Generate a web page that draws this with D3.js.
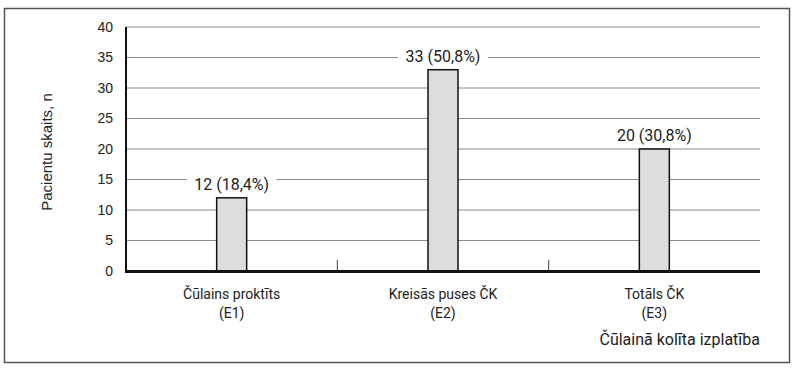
<!doctype html>
<html lang="lv">
<head>
  <meta charset="utf-8">
  <title>Čūlainā kolīta izplatība</title>
  <script src="https://d3js.org/d3.v7.min.js"></script>
  <style>
    body { margin: 0; background: #fff; }
    svg text { fill: #222; }
  </style>
</head>
<body>
<svg id="chart" width="800" height="371"></svg>
<script>
// data
const categories = ["Čūlains proktīts", "Kreisās puses ČK", "Totāls ČK"];
const codes = ["(E1)", "(E2)", "(E3)"];
const counts = [12, 33, 20];
const shares = ["18,4%", "50,8%", "30,8%"];
const yTicks = [0, 5, 10, 15, 20, 25, 30, 35, 40];

const svg = d3.select("#chart");
const m = {left: 126, right: 40, top: 27, bottom: 100};
const W = 800, H = 371;

// outer frame
svg.append("rect")
  .attr("x", 4.5).attr("y", 8.5).attr("width", 785).attr("height", 354)
  .attr("fill", "none").attr("stroke", "#555").attr("stroke-width", 1.5);

const x = d3.scaleBand().domain(categories).range([m.left, W - m.right]);
const y = d3.scaleLinear().domain([0, 40]).range([H - m.bottom, m.top]);

// grid
svg.append("g").selectAll("line")
  .data(yTicks.filter(d => d > 0))
  .join("line")
  .attr("x1", m.left).attr("x2", W - m.right)
  .attr("y1", d => y(d)).attr("y2", d => y(d))
  .attr("stroke", "#8a8a8a").attr("stroke-width", 1);

// y axis labels
const yAxis = d3.axisLeft(y).tickValues(yTicks).tickSize(0).tickPadding(13);
const gy = svg.append("g").attr("transform", `translate(${m.left},0)`).call(yAxis);
gy.select(".domain").remove();
gy.selectAll("text")
  .style("font-family", "'Liberation Sans', Arial, sans-serif")
  .style("font-size", "14px").attr("fill", "#222");

// category separators
svg.append("g").selectAll("line")
  .data(categories.slice(1))
  .join("line")
  .attr("x1", d => x(d)).attr("x2", d => x(d))
  .attr("y1", y(0) - 11).attr("y2", y(0))
  .attr("stroke", "#444").attr("stroke-width", 1);

// bars
const bw = 30;
svg.append("g").selectAll("rect")
  .data(categories)
  .join("rect")
  .attr("x", d => x(d) + x.bandwidth() / 2 - bw / 2)
  .attr("width", bw)
  .attr("y", (d, i) => y(counts[i]))
  .attr("height", (d, i) => y(0) - y(counts[i]))
  .attr("fill", "#dcdddf").attr("stroke", "#111").attr("stroke-width", 1.5);

// value labels with white backing
const lab = svg.append("g").selectAll("g")
  .data(categories)
  .join("g")
  .attr("transform", (d, i) => `translate(${x(d) + x.bandwidth() / 2},${y(counts[i]) - 8})`);
lab.append("rect")
  .attr("x", -45).attr("y", -16).attr("width", 90).attr("height", 20)
  .attr("fill", "#fff");
lab.append("text")
  .attr("text-anchor", "middle")
  .style("font-family", "Roboto, sans-serif").style("font-size", "16px")
  .text((d, i) => `${counts[i]} (${shares[i]})`);

// axes lines
svg.append("line")
  .attr("x1", m.left).attr("x2", m.left).attr("y1", y(40)).attr("y2", y(0))
  .attr("stroke", "#111").attr("stroke-width", 2);
svg.append("line")
  .attr("x1", m.left - 1).attr("x2", W - m.right).attr("y1", y(0) + 0.5).attr("y2", y(0) + 0.5)
  .attr("stroke", "#111").attr("stroke-width", 3);

// category labels
const cl = svg.append("g").selectAll("text")
  .data(categories)
  .join("text")
  .attr("text-anchor", "middle")
  .attr("x", d => x(d) + x.bandwidth() / 2)
  .attr("y", y(0) + 28)
  .style("font-family", "Roboto, sans-serif").style("font-size", "14px");
cl.append("tspan").text(d => d);
cl.append("tspan")
  .attr("x", d => x(d) + x.bandwidth() / 2).attr("dy", 19)
  .text((d, i) => codes[i]);

// axis titles
svg.append("text")
  .attr("text-anchor", "end")
  .attr("x", W - m.right).attr("y", 345)
  .style("font-family", "Roboto, sans-serif").style("font-size", "16px")
  .text("Čūlainā kolīta izplatība");

svg.append("text")
  .attr("text-anchor", "middle")
  .attr("transform", `translate(52,${(y(0) + y(40)) / 2 + 3}) rotate(-90)`)
  .style("font-family", "'Liberation Sans', Arial, sans-serif").style("font-size", "15px")
  .text("Pacientu skaits, n");
</script>
</body>
</html>
